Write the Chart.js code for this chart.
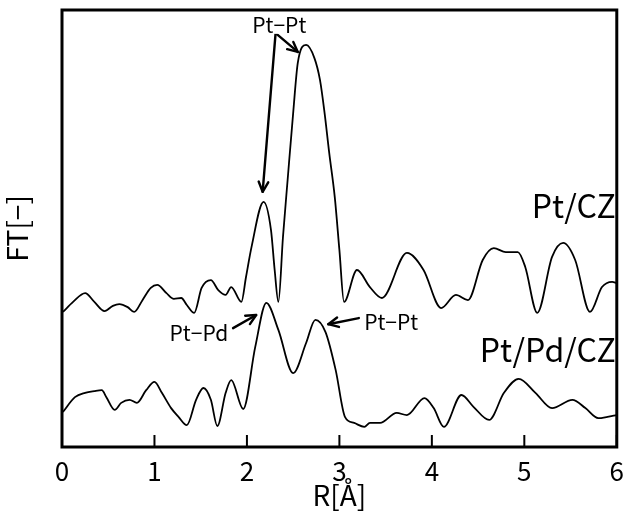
<!DOCTYPE html>
<html>
<head>
<meta charset="utf-8">
<script src="https://cdn.jsdelivr.net/npm/chart.js@4.4.1/dist/chart.umd.min.js"></script>
<style>
  html, body { margin: 0; padding: 0; background: #fff; }
</style>
</head>
<body>
<canvas id="ftChart" width="633" height="516"></canvas>
<script>
// Pt/CZ curve
const rPtCz = [0.01, 0.12, 0.25, 0.35, 0.46, 0.55, 0.62, 0.71, 0.78, 0.87, 0.96, 1.03, 1.13, 1.21, 1.29, 1.35, 1.43,
  1.51, 1.61, 1.69, 1.77, 1.83, 1.94, 1.99, 2.05, 2.18, 2.26, 2.30, 2.34, 2.39, 2.44, 2.50, 2.55, 2.64, 2.73, 2.79,
  2.84, 2.89, 2.95, 3.00, 3.05, 3.19, 3.33, 3.46, 3.73, 3.91, 4.10, 4.26, 4.39, 4.55, 4.67, 4.80, 4.93, 5.01,
  5.14, 5.30, 5.42, 5.55, 5.71, 5.84, 5.95, 6.00];
const ftPtCz = [30.9, 33.2, 35.2, 33.2, 31.1, 32.3, 32.7, 32.0, 30.9, 33.6, 36.4, 37.1, 35.2, 33.9, 34.1, 32.5, 30.7,
  36.4, 38.2, 35.9, 34.8, 36.6, 33.2, 38.9, 45.8, 56.1, 49.7, 40.5, 33.2, 48.1, 61.1, 76.4, 87.9, 92.0, 89.0, 84.0,
  76.4, 67.3, 57.2, 45.1, 33.2, 40.5, 36.6, 34.1, 44.4, 40.5, 31.8, 34.8, 33.6, 42.8, 45.5, 44.6, 44.6, 41.2,
  30.7, 43.5, 46.7, 42.8, 30.9, 36.6, 37.8, 37.5];

// Pt/Pd/CZ curve
const rPtPdCz = [0.01, 0.14, 0.25, 0.35, 0.43, 0.48, 0.57, 0.64, 0.73, 0.81, 0.91, 1.00, 1.08, 1.18, 1.26, 1.35,
  1.45, 1.53, 1.61, 1.68, 1.77, 1.83, 1.96, 2.09, 2.21, 2.34, 2.50, 2.64, 2.74, 2.85, 2.96, 3.06, 3.16, 3.27,
  3.33, 3.44, 3.62, 3.73, 3.92, 4.02, 4.13, 4.32, 4.45, 4.62, 4.78, 4.94, 5.12, 5.30, 5.52, 5.66, 5.80, 5.90, 6.00];
const ftPtPdCz = [8.0, 11.4, 12.4, 12.8, 13.0, 11.4, 8.5, 10.1, 10.8, 10.1, 13.0, 14.9, 12.4, 8.9, 6.9, 5.0,
  10.8, 13.5, 10.8, 4.8, 12.4, 15.3, 8.7, 22.9, 33.0, 26.8, 16.9, 23.8, 29.1, 26.3, 17.6, 6.9, 5.5, 4.6,
  5.5, 5.5, 7.8, 7.3, 11.2, 8.9, 4.6, 11.9, 9.2, 6.2, 12.4, 15.6, 12.4, 8.9, 10.8, 8.9, 6.6, 6.9, 7.3];

const xTicks = [0, 1, 2, 3, 4, 5, 6];

// peak labels (data coordinates)
const peakTexts = ['Pt\u2212Pt', 'Pt\u2212Pd', 'Pt\u2212Pt'];
const peakTextR = [2.35, 1.48, 3.56];
const peakTextFT = [96.6, 26.1, 28.6];
// arrows
const arrowFromR = [2.31, 2.31, 1.85, 3.21];
const arrowFromFT = [94.7, 94.7, 27.2, 29.5];
const arrowToR = [2.17, 2.55, 2.10, 2.88];
const arrowToFT = [58.4, 90.4, 30.2, 28.1];
// sample names
const sampleNames = ['Pt/CZ', 'Pt/Pd/CZ'];
const sampleR = [5.99, 5.99];
const sampleFT = [55.1, 22.2];

const FONT = '"Noto Sans CJK JP"';

function toPoints(xs, ys) {
  return xs.map((v, i) => ({ x: v, y: ys[i] }));
}

function drawArrow(ctx, x1, y1, x2, y2) {
  const ang = Math.atan2(y2 - y1, x2 - x1);
  const head = 11;
  ctx.beginPath();
  ctx.moveTo(x1, y1);
  ctx.lineTo(x2, y2);
  ctx.stroke();
  ctx.beginPath();
  ctx.moveTo(x2 - head * Math.cos(ang - 0.45), y2 - head * Math.sin(ang - 0.45));
  ctx.lineTo(x2, y2);
  ctx.lineTo(x2 - head * Math.cos(ang + 0.45), y2 - head * Math.sin(ang + 0.45));
  ctx.stroke();
}

const frameAndNotes = {
  id: 'frameAndNotes',
  afterDatasetsDraw(chart) {
    const { ctx, chartArea: a, scales: { x, y } } = chart;
    ctx.save();
    ctx.strokeStyle = '#000';
    ctx.fillStyle = '#000';

    // inner ticks on bottom axis
    ctx.lineWidth = 2;
    xTicks.forEach(v => {
      const px = x.getPixelForValue(v);
      ctx.beginPath();
      ctx.moveTo(px, a.bottom);
      ctx.lineTo(px, a.bottom - 12);
      ctx.stroke();
    });

    // frame
    ctx.lineWidth = 3;
    ctx.strokeRect(a.left, a.top, a.right - a.left, a.bottom - a.top);

    // arrows
    ctx.lineWidth = 2.4;
    ctx.lineCap = 'round';
    ctx.lineJoin = 'round';
    arrowFromR.forEach((r, i) => {
      drawArrow(ctx,
        x.getPixelForValue(r), y.getPixelForValue(arrowFromFT[i]),
        x.getPixelForValue(arrowToR[i]), y.getPixelForValue(arrowToFT[i]));
    });

    // peak labels
    ctx.font = '21px ' + FONT;
    ctx.textAlign = 'center';
    ctx.textBaseline = 'middle';
    peakTexts.forEach((t, i) => {
      const px = x.getPixelForValue(peakTextR[i]);
      const py = y.getPixelForValue(peakTextFT[i]);
      ctx.fillStyle = '#fff';
      const w = ctx.measureText(t).width;
      ctx.fillRect(px - w / 2 - 1, py - 9, w + 2, 18);
      ctx.fillStyle = '#000';
      ctx.fillText(t, px, py);
    });

    // sample names
    ctx.font = '32px ' + FONT;
    ctx.textAlign = 'right';
    sampleNames.forEach((t, i) => {
      ctx.fillText(t, x.getPixelForValue(sampleR[i]), y.getPixelForValue(sampleFT[i]));
    });
    ctx.restore();
  }
};

function drawChart() {
  const ctx = document.getElementById('ftChart');
  new Chart(ctx, {
    type: 'line',
    data: {
      datasets: [{
        label: 'Pt/CZ',
        data: toPoints(rPtCz, ftPtCz),
        borderColor: '#000',
        borderWidth: 1.8,
        pointRadius: 0,
        cubicInterpolationMode: 'monotone',
        fill: false
      }, {
        label: 'Pt/Pd/CZ',
        data: toPoints(rPtPdCz, ftPtPdCz),
        borderColor: '#000',
        borderWidth: 1.8,
        pointRadius: 0,
        cubicInterpolationMode: 'monotone',
        fill: false
      }]
    },
    options: {
      responsive: false,
      animation: false,
      devicePixelRatio: 1,
      layout: {
        padding: { left: 0, top: 10, right: 11, bottom: 0 }
      },
      plugins: {
        legend: { display: false },
        tooltip: { enabled: false }
      },
      scales: {
        x: {
          type: 'linear',
          min: 0,
          max: 6,
          afterFit(scale) { scale.height = 69; },
          afterBuildTicks(scale) { scale.ticks = xTicks.map(v => ({ value: v })); },
          grid: { display: false, drawTicks: false },
          border: { display: false },
          ticks: {
            color: '#000',
            padding: 9,
            maxRotation: 0,
            font: { family: FONT, size: 26 }
          },
          title: {
            display: true,
            text: 'R[Å]',
            color: '#000',
            padding: { top: 0, bottom: 4 },
            font: { family: FONT, size: 28 }
          }
        },
        y: {
          min: 0,
          max: 100,
          afterFit(scale) { scale.width = 62; },
          grid: { display: false, drawTicks: false },
          border: { display: false },
          ticks: { display: false },
          title: {
            display: true,
            text: 'FT[\u2212]',
            color: '#000',
            padding: { top: 1, bottom: 0 },
            font: { family: FONT, size: 28 }
          }
        }
      }
    },
    plugins: [frameAndNotes]
  });
}

document.fonts.load('20px "Noto Sans CJK JP"').then(drawChart, drawChart);
</script>
</body>
</html>
